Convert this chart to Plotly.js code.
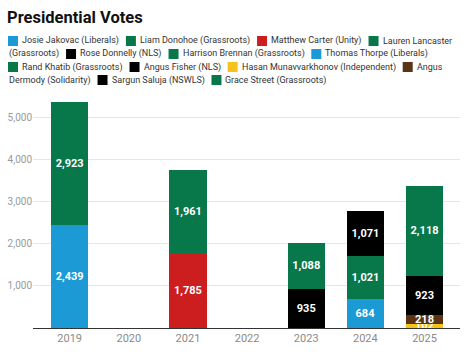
<!DOCTYPE html>
<html><head><meta charset="utf-8">
<script src="https://cdn.plot.ly/plotly-3.0.1.min.js"></script>
<style>body{margin:0;background:#fff}#chart{width:467px;height:354px}</style>
</head><body><div id="chart"></div>
<script>
// ---- data ----
const years = ['2019','2020','2021','2022','2023','2024','2025'];
const candidates = ['Josie Jakovac (Liberals)','Liam Donohoe (Grassroots)','Matthew Carter (Unity)','Lauren Lancaster (Grassroots)','Rose Donnelly (NLS)','Harrison Brennan (Grassroots)','Thomas Thorpe (Liberals)','Rand Khatib (Grassroots)','Angus Fisher (NLS)','Hasan Munavvarkhonov (Independent)','Angus Dermody (Solidarity)','Sargun Saluja (NSWLS)','Grace Street (Grassroots)'];
const candidateYears = ['2019','2019','2021','2021','2023','2023','2024','2024','2024','2025','2025','2025','2025'];
const votes = [2439,2923,1785,1961,935,1088,684,1021,1071,102,218,923,2118];
const candidateColors = ['#1b9ad6','#08774a','#cc1d1f','#08774a','#000000','#08774a','#1b9ad6','#08774a','#000000','#f6c21b','#5b3414','#000000','#08774a'];
const yTickVals = [1000,2000,3000,4000,5000];

// ---- layout geometry ----
const W = 467, H = 354;
const M = {l:33, r:7, t:102, b:26};
const plotW = W - M.l - M.r, plotH = H - M.t - M.b;
const px2x = px => (px - M.l) / plotW;
const py2y = py => (H - M.b - py) / plotH;

const fmt = v => v.toLocaleString('en-US');

const traces = [{
  type:'bar', x: years, y: years.map(()=>0), showlegend:false, hoverinfo:'skip',
  marker:{color:'rgba(0,0,0,0)'}
}];
candidates.forEach((name,i)=>{
  traces.push({
    type:'bar', name: name, x:[candidateYears[i]], y:[votes[i]],
    marker:{color:candidateColors[i], line:{width:0}},
    text:[fmt(votes[i])], textposition:'inside', insidetextanchor:'middle',
    constraintext:'none', textangle:0,
    textfont:{family:'Roboto', size:11, color:'#ffffff', weight:'bold'},
    showlegend:false
  });
});

// ---- text measuring with SVG (same renderer as Plotly) ----
const svgNS = 'http://www.w3.org/2000/svg';
const msvg = document.createElementNS(svgNS,'svg');
msvg.setAttribute('width','10'); msvg.setAttribute('height','10');
msvg.style.position='absolute'; msvg.style.left='-1000px';
const mtext = document.createElementNS(svgNS,'text');
msvg.appendChild(mtext); document.body.appendChild(msvg);
function measure(s, size){
  mtext.setAttribute('style','font-family:Roboto;font-size:'+size+'px;white-space:pre');
  mtext.textContent = s;
  return mtext.getComputedTextLength();
}
// legend font fitted so the first entry spans ~97px as in the source
const LFONT = Math.min(11, 11 * 97 / measure(candidates[0], 11));
const mw = s => measure(s, LFONT);

// ---- custom wrapped legend ----
const x0 = 8, maxX = 458, sw = 10, swGap = 3, itemGap = 8;
const row0 = 41, rowH = 13;
const shapes = [], annotations = [];
let x = x0, row = 0;
function addSeg(px, r, text){
  annotations.push({xref:'paper', yref:'paper', x:px2x(px-1), y:py2y(row0 + r*rowH),
    xanchor:'left', yanchor:'middle', text:text, showarrow:false,
    font:{family:'Roboto', size:LFONT, color:'#333333'}});
}
candidates.forEach((name,i)=>{
  const words = name.split(' ');
  if (x !== x0) x += itemGap;
  if (x + sw + swGap + mw(words[0]) > maxX) { row++; x = x0; }
  const cy = row0 + row*rowH;
  shapes.push({type:'rect', xref:'paper', yref:'paper', x0:px2x(x), x1:px2x(x+sw),
    y0:py2y(cy+5), y1:py2y(cy-5), fillcolor:candidateColors[i], line:{width:0}});
  x += sw + swGap;
  let segStart = x, seg = '';
  words.forEach(w=>{
    const cand = seg ? seg + ' ' + w : w;
    if (seg && segStart + mw(cand) > maxX) {
      addSeg(segStart, row, seg);
      row++; segStart = x0; seg = w;
    } else seg = cand;
  });
  addSeg(segStart, row, seg);
  x = segStart + mw(seg);
});
document.body.removeChild(msvg);

const layout = {
  width: W, height: H, margin: M,
  paper_bgcolor:'#ffffff', plot_bgcolor:'#ffffff',
  font:{family:'Roboto', color:'#333'},
  title:{text:'<b>Presidential Votes</b>', x:7/W, xanchor:'left', xref:'container',
    y:1-17.5/H, yanchor:'middle', yref:'container',
    font:{family:'Roboto', size:16.5, color:'#111111'}},
  barmode:'stack', bargap:0.37,
  uniformtext:{mode:'show', minsize:11},
  xaxis:{type:'category', categoryorder:'array', categoryarray:years,
    range:[-0.62, 6.6], showline:true, linecolor:'#333333', linewidth:1,
    showgrid:false, ticks:'', tickfont:{family:'Roboto', size:11, color:'#8a8a8a'},
    fixedrange:true},
  yaxis:{range:[0,5362], tickvals:yTickVals, tickformat:',', showgrid:true,
    gridcolor:'#e6e6e6', gridwidth:1, zeroline:false, showline:false, ticks:'',
    tickfont:{family:'Roboto', size:10, color:'#9a9a9a'}, fixedrange:true},
  shapes: shapes, annotations: annotations, showlegend:false
};
Plotly.newPlot('chart', traces, layout, {staticPlot:true, displayModeBar:false});
</script></body></html>
